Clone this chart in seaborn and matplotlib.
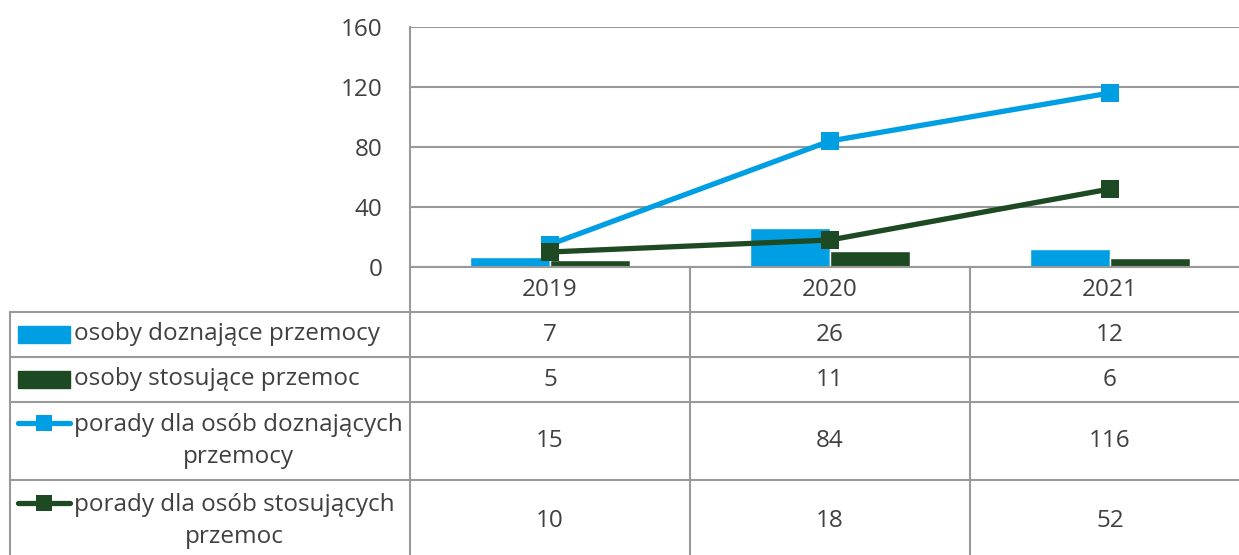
import numpy as np
import pandas as pd
import matplotlib.pyplot as plt
from matplotlib.patches import Rectangle
import seaborn as sns

# dane z wykresu
years = ['2019', '2020', '2021']
osoby_doznajace = [7, 26, 12]
osoby_stosujace = [5, 11, 6]
porady_doznajace = [15, 84, 116]
porady_stosujace = [10, 18, 52]

bar_names = ['osoby doznające przemocy', 'osoby stosujące przemoc']
line_names = ['porady dla osób doznających\nprzemocy', 'porady dla osób stosujących\nprzemoc']

blue = '#009FE3'
green = '#1D4A22'
grid_c = '#999999'
text_c = '#404040'

sns.set_theme(style='white')
plt.rcParams['font.family'] = ['Open Sans', 'DejaVu Sans']
FS = 17.5
FW = 'normal'

W, H = 1239, 555
fig = plt.figure(figsize=(W / 100, H / 100), dpi=100)
ax = fig.add_axes([410 / W, (H - 267) / H, 840 / W, 240 / H])

# słupki
df_bar = pd.DataFrame({
    'rok': years * 2,
    'wartosc': osoby_doznajace + osoby_stosujace,
    'seria': [bar_names[0]] * 3 + [bar_names[1]] * 3,
})
sns.barplot(data=df_bar, x='rok', y='wartosc', hue='seria', palette=[blue, green],
            width=0.57, saturation=1, legend=False, ax=ax, zorder=2)

# linie
pos = np.arange(len(years))
for vals, c in [(porady_doznajace, blue), (porady_stosujace, green)]:
    sns.lineplot(x=pos, y=vals, color=c, linewidth=3.7, marker='s', markersize=13,
                 markeredgewidth=0, ax=ax, zorder=3)
for ln in ax.lines:
    ln.set_linewidth(3.8)

ax.set_xlim(-0.5, 2.5)
ax.set_ylim(0, 160)
ax.set_yticks(range(0, 161, 40))
ax.set_xticks([])
ax.set_xlabel('')
ax.set_ylabel('')
ax.yaxis.grid(True, color=grid_c, lw=1.5, zorder=0)
ax.set_axisbelow(True)
for s in ['top', 'right']:
    ax.spines[s].set_visible(False)
for s in ['left', 'bottom']:
    ax.spines[s].set_color(grid_c)
    ax.spines[s].set_linewidth(1.5)
ax.tick_params(axis='y', length=0, pad=20, labelsize=FS, labelcolor=text_c)
for t in ax.get_yticklabels():
    t.set_fontweight(FW)


# tabela danych pod wykresem
def ya(y):  # piksel -> współrzędne osi
    return (267 - y) / 240


def xa(x):
    return (x - 410) / 840


lk = dict(color=grid_c, lw=1.5, clip_on=False)
for y in [312, 357, 402, 480]:
    ax.plot([xa(10), xa(1245)], [ya(y), ya(y)], transform=ax.transAxes, **lk)
ax.plot([0, 0], [ya(267), ya(560)], transform=ax.transAxes, **lk)
ax.plot([xa(10), xa(10)], [ya(312), ya(560)], transform=ax.transAxes, **lk)
for b in [0.5, 1.5]:
    ax.plot([b, b], [ya(267), ya(560)], transform=ax.get_xaxis_transform(), **lk)

tk = dict(ha='center', va='center', fontsize=FS, color=text_c, fontweight=FW)
xt = ax.get_xaxis_transform()
for i, yr in enumerate(years):
    ax.text(i, ya(290), yr, transform=xt, **tk)

rows = [osoby_doznajace, osoby_stosujace, porady_doznajace, porady_stosujace]
row_c = [335, 380, 441, 521]
for vals, yc in zip(rows, row_c):
    for i, v in enumerate(vals):
        ax.text(i, ya(yc), str(v), transform=xt, **tk)

# etykiety wierszy z kluczami legendy
lab = dict(ha='left', va='center', fontsize=FS, color=text_c, fontweight=FW,
           multialignment='center', linespacing=1.45, transform=ax.transAxes)
for name, c, yc in zip(bar_names, [blue, green], row_c[:2]):
    ax.add_patch(Rectangle((xa(18), ya(yc + 8)), xa(70) - xa(18), ya(yc - 9) - ya(yc + 8),
                           transform=ax.transAxes, color=c, clip_on=False))
    ax.text(xa(74), ya(yc - 1), name, **lab)
for name, c, yc, yl in zip(line_names, [blue, green], row_c[2:], [423, 503]):
    ax.plot([xa(18), xa(70)], [ya(yl), ya(yl)], color=c, lw=3.8, solid_capstyle='round',
            transform=ax.transAxes, clip_on=False)
    ax.plot([xa(44)], [ya(yl)], marker='s', markersize=12, color=c, markeredgewidth=0,
            transform=ax.transAxes, clip_on=False)
    ax.text(xa(74), ya(yc), name, **lab)

fig.savefig('out.png', dpi=100)
